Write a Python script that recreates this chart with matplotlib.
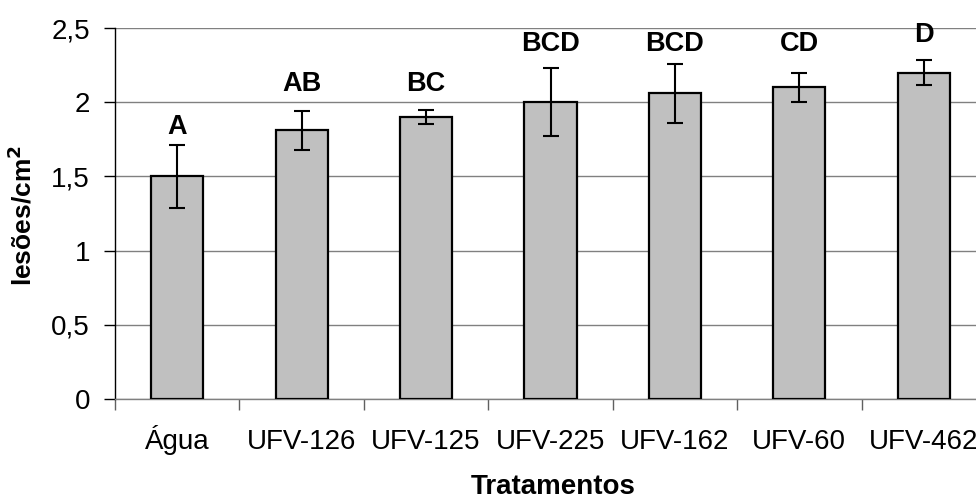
import numpy as np
import matplotlib
matplotlib.use('Agg')
import matplotlib.pyplot as plt

plt.rcParams['font.family'] = ['Liberation Sans', 'DejaVu Sans']

tratamentos = ['Água', 'UFV-126', 'UFV-125', 'UFV-225', 'UFV-162', 'UFV-60', 'UFV-462']
lesoes = [1.50, 1.81, 1.90, 2.00, 2.06, 2.10, 2.20]
erro = [0.21, 0.13, 0.05, 0.23, 0.20, 0.10, 0.085]
letras = ['A', 'AB', 'BC', 'BCD', 'BCD', 'CD', 'D']

# altura das letras (coordenadas de dados)
letras_y = [1.83, 2.12, 2.12, 2.39, 2.39, 2.39, 2.45]

fig = plt.figure(figsize=(9.76, 5.0), dpi=100)
ax = fig.add_axes([115 / 976, 101 / 500, 871 / 976, 371 / 500])

x = np.arange(len(tratamentos))
ax.bar(x, lesoes, width=0.42, color='#c0c0c0', edgecolor='black', linewidth=1.6, zorder=3)
ax.errorbar(x, lesoes, yerr=erro, fmt='none', ecolor='black', elinewidth=1.5,
            capsize=6, capthick=1.5, zorder=4)

for xi, yi, t in zip(x, letras_y, letras):
    ax.text(xi, yi, t, ha='center', va='center', fontsize=19.5, fontweight='bold')

ax.set_xlim(-0.5, len(tratamentos) - 0.5)
ax.set_ylim(0, 2.5)
ax.set_yticks([0, 0.5, 1, 1.5, 2, 2.5])
ax.set_yticklabels(['0', '0,5', '1', '1,5', '2', '2,5'])
ax.yaxis.grid(True, color='#808080', linewidth=1.0, zorder=0)
ax.set_axisbelow(True)

ax.set_xticks(x)
ax.set_xticklabels(tratamentos, va='baseline')
ax.set_xticks(np.arange(len(tratamentos) + 1) - 0.5, minor=True)
ax.tick_params(axis='x', which='major', length=0, pad=36, labelsize=20)
ax.tick_params(axis='x', which='minor', length=8, width=1, color='#606060', direction='out')
ax.tick_params(axis='y', length=8, width=1, direction='out', pad=10, labelsize=20)

for s in ['top', 'right']:
    ax.spines[s].set_visible(False)
ax.spines['left'].set_linewidth(1)
ax.spines['bottom'].set_color('#808080')
ax.spines['bottom'].set_linewidth(1)

fig.text(553 / 976, 1 - 487 / 500, 'Tratamentos', ha='center', va='center',
         fontsize=20, fontweight='bold')
fig.text(22 / 976, 1 - 215 / 500, 'lesões/cm$^\\mathbf{2}$', ha='center', va='center',
         rotation=90, fontsize=19, fontweight='bold')

fig.savefig('out.png', dpi=100)
